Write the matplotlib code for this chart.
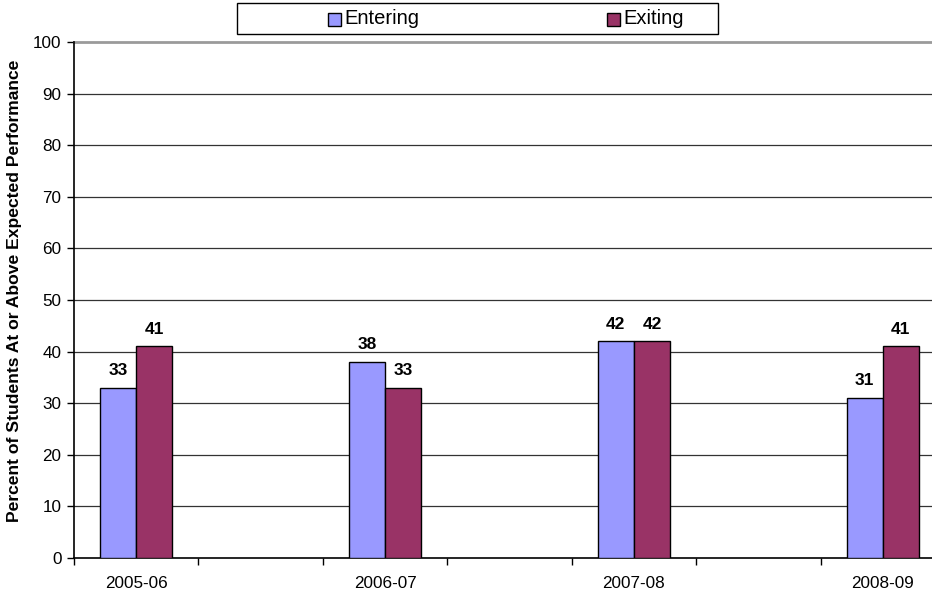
import matplotlib.pyplot as plt
import numpy as np
from matplotlib.patches import Rectangle

plt.rcParams['font.family'] = ['Liberation Sans', 'DejaVu Sans']

# data (empty slots between years, as in the original sheet)
years = ['2005-06', '', '2006-07', '', '2007-08', '', '2008-09']
entering = [33, None, 38, None, 42, None, 31]
exiting = [41, None, 33, None, 42, None, 41]

col_in = '#9999FF'
col_out = '#993366'

fig = plt.figure(figsize=(9.32, 5.97), dpi=100)
W, H = 932, 597
# axes runs past the right edge of the picture, like the cropped original
ax = fig.add_axes([74 / W, 39 / H, 871 / W, 516 / H])

x = np.arange(len(years))
bw = 0.29
idx = [i for i, v in enumerate(entering) if v is not None]
e_vals = [entering[i] for i in idx]
x_vals = [exiting[i] for i in idx]
xi = x[idx]

ax.set_axisbelow(True)
b1 = ax.bar(xi - bw / 2, e_vals, bw, color=col_in, edgecolor='black', linewidth=1.0, zorder=3)
b2 = ax.bar(xi + bw / 2, x_vals, bw, color=col_out, edgecolor='black', linewidth=1.0, zorder=3)

for bars, vals in ((b1, e_vals), (b2, x_vals)):
    for b, v in zip(bars, vals):
        ax.annotate(str(v), (b.get_x() + b.get_width() / 2, v), xytext=(0, 7),
                    textcoords='offset points', ha='center', va='bottom',
                    fontsize=12.5, fontweight='bold')

ax.set_xlim(-0.5, len(years) - 0.5)
ax.set_ylim(0, 100)
ax.set_yticks(range(0, 101, 10))
for yv in range(10, 100, 10):
    ax.axhline(yv, color='#333333', linewidth=0.9, zorder=1)
ax.axhline(100, color='#9a9a9a', linewidth=2.0, zorder=1, clip_on=False)

# category boundaries as major ticks, labels on minor ticks
ax.set_xticks(np.arange(-0.5, len(years), 1.0))
ax.set_xticklabels([])
ax.set_xticks(x[::2], minor=True)
ax.set_xticklabels(years[::2], minor=True, fontsize=12.3)
ax.tick_params(axis='x', which='major', length=5, width=1, direction='out')
ax.tick_params(axis='x', which='minor', length=0, pad=13)
ax.tick_params(axis='y', length=5, width=1, pad=4, labelsize=12.3)

for s in ('top', 'right'):
    ax.spines[s].set_visible(False)
ax.spines['left'].set_linewidth(1.2)
ax.spines['bottom'].set_linewidth(1.2)

fig.text(15 / W, 1 - 291 / H, 'Percent of Students At or Above Expected Performance',
         rotation=90, ha='center', va='center', fontsize=12.6, fontweight='bold')

# legend box drawn at the top
fig.patches.append(Rectangle((237 / W, 1 - 34 / H), 481 / W, 31 / H, transform=fig.transFigure,
                             facecolor='white', edgecolor='black', linewidth=1.0))
for mx, c, lab in ((328, col_in, 'Entering'), (607, col_out, 'Exiting')):
    fig.patches.append(Rectangle((mx / W, 1 - 26 / H), 13 / W, 13 / H, transform=fig.transFigure,
                                 facecolor=c, edgecolor='black', linewidth=1.0))
    fig.text((mx + 16) / W, 1 - 19 / H, lab, ha='left', va='center', fontsize=14.5)

plt.savefig('out.png', dpi=100)
